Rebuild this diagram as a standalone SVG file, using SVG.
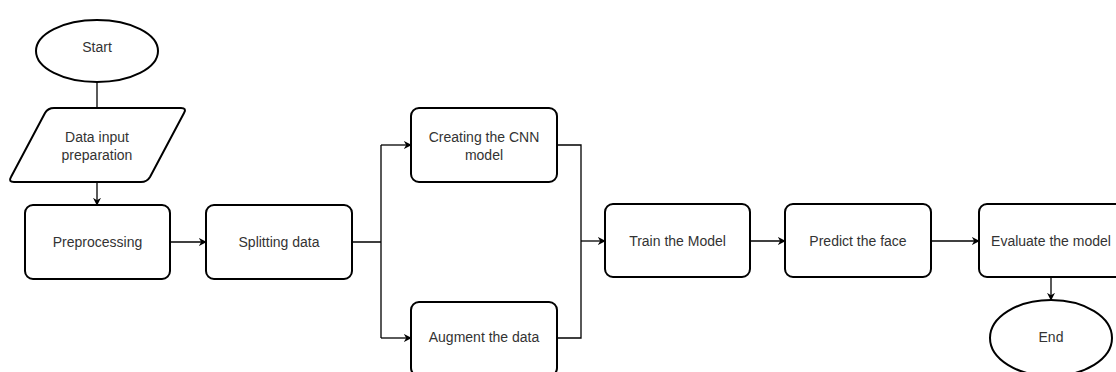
<svg xmlns="http://www.w3.org/2000/svg" width="1116" height="372" viewBox="0 0 1116 372">
<style>
.box{fill:#fff;stroke:#000;stroke-width:2}
.t{font-family:"Liberation Sans",Arial,sans-serif;font-size:14px;fill:#333;text-anchor:middle;dominant-baseline:central}
.c{fill:none;stroke:#000;stroke-width:1.3}
</style>
<defs>
<marker id="a" viewBox="0 0 10 10" refX="9" refY="5" markerWidth="8" markerHeight="8" markerUnits="userSpaceOnUse" orient="auto">
<path d="M0,0 L10,5 L0,10 L3,5 Z" fill="#000"/>
</marker>
</defs>
<rect width="1116" height="372" fill="#fff"/>
<g id="connectors">
<path class="c" d="M97,82 V108"/>
<path class="c" d="M97,182 V205" marker-end="url(#a)"/>
<path class="c" d="M170,242 H206" marker-end="url(#a)"/>
<path class="c" d="M352,242 H381 M381,145 V338"/>
<path class="c" d="M381,145 H411" marker-end="url(#a)"/>
<path class="c" d="M381,338 H411" marker-end="url(#a)"/>
<path class="c" d="M557,145 H581 V338 H557"/>
<path class="c" d="M581,241 H605" marker-end="url(#a)"/>
<path class="c" d="M750,241 H785" marker-end="url(#a)"/>
<path class="c" d="M931,241 H979" marker-end="url(#a)"/>
<path class="c" d="M1051,277 V300" marker-end="url(#a)"/>
</g>
<g id="start"><ellipse class="box" cx="97" cy="51" rx="61" ry="31"/><text class="t" x="97" y="47">Start</text></g>
<g id="input"><path class="box" d="M54,108 H181 Q187,108 184,113 L150,177 Q147,182 141,182 H14 Q8,182 11,177 L45,113 Q48,108 54,108 Z"/><text class="t" x="97" y="137">Data input</text><text class="t" x="97" y="155">preparation</text></g>
<g id="preprocessing"><rect class="box" x="25" y="205" width="145" height="74" rx="8"/><text class="t" x="97.5" y="242">Preprocessing</text></g>
<g id="splitting"><rect class="box" x="206" y="205" width="146" height="74" rx="8"/><text class="t" x="279" y="242">Splitting data</text></g>
<g id="cnn"><rect class="box" x="411" y="108" width="146" height="74" rx="8"/><text class="t" x="484" y="137">Creating the CNN</text><text class="t" x="484" y="155">model</text></g>
<g id="augment"><rect class="box" x="411" y="302" width="146" height="74" rx="8"/><text class="t" x="484" y="337">Augment the data</text></g>
<g id="train"><rect class="box" x="605" y="204" width="145" height="73" rx="8"/><text class="t" x="677.5" y="241">Train the Model</text></g>
<g id="predict"><rect class="box" x="785" y="204" width="146" height="73" rx="8"/><text class="t" x="858" y="241">Predict the face</text></g>
<g id="evaluate"><rect class="box" x="979" y="204" width="146" height="73" rx="8"/><text class="t" x="1051" y="241">Evaluate the model</text></g>
<g id="end"><ellipse class="box" cx="1051" cy="338" rx="61" ry="38"/><text class="t" x="1051" y="337">End</text></g>
</svg>
